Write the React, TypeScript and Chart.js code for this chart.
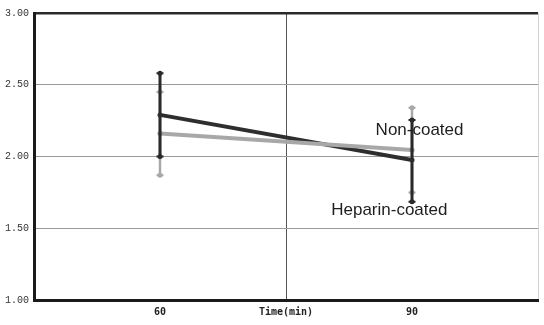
import React, { useEffect, useRef } from "react";
import { Chart, registerables } from "chart.js";

Chart.register(...registerables);

const times = [60, 90];
const heparinMean = [2.29, 1.975];
const heparinHigh = [2.58, 2.255];
const heparinLow = [2.0, 1.685];
const nonCoatedMean = [2.16, 2.045];
const nonCoatedHigh = [2.45, 2.34];
const nonCoatedLow = [1.87, 1.75];
const yTicks = [1.0, 1.5, 2.0, 2.5, 3.0];
const xTickLabels: Record<number, string> = { 60: "60", 75: "Time(min)", 90: "90" };
const seriesLabels = [
  { text: "Non-coated", x: 90.9, y: 2.18 },
  { text: "Heparin-coated", x: 87.3, y: 1.625 },
];

const errorBars = [
  { low: nonCoatedLow, high: nonCoatedHigh, color: "#a8a8a8", width: 2.5 },
  { low: heparinLow, high: heparinHigh, color: "#2a2a2a", width: 3 },
];

const errorBarPlugin = {
  id: "errorBars",
  afterDatasetsDraw(chart: any) {
    const { ctx, scales } = chart;
    const xs = scales.x;
    const ys = scales.y;
    ctx.save();
    errorBars.forEach((eb) => {
      times.forEach((t, i) => {
        const px = xs.getPixelForValue(t);
        const yl = ys.getPixelForValue(eb.low[i]);
        const yh = ys.getPixelForValue(eb.high[i]);
        ctx.strokeStyle = eb.color;
        ctx.lineWidth = eb.width;
        ctx.beginPath();
        ctx.moveTo(px, yl);
        ctx.lineTo(px, yh);
        ctx.stroke();
        ctx.lineWidth = 2;
        ctx.beginPath();
        ctx.moveTo(px - 3.5, yl);
        ctx.lineTo(px + 3.5, yl);
        ctx.moveTo(px - 3.5, yh);
        ctx.lineTo(px + 3.5, yh);
        ctx.stroke();
        ctx.fillStyle = eb.color;
        [yl, yh].forEach((yy) => {
          ctx.beginPath();
          ctx.arc(px, yy, 2.5, 0, Math.PI * 2);
          ctx.fill();
        });
      });
    });
    ctx.fillStyle = "#1e1e1e";
    ctx.font = "17px 'Liberation Sans', Arial, sans-serif";
    ctx.textAlign = "center";
    ctx.textBaseline = "middle";
    seriesLabels.forEach((l) => {
      ctx.fillText(l.text, xs.getPixelForValue(l.x), ys.getPixelForValue(l.y));
    });
    ctx.restore();
  },
};

export default function App() {
  const ref = useRef<HTMLCanvasElement | null>(null);
  useEffect(() => {
    if (!ref.current) return;
    const chart = new Chart(ref.current, {
      type: "scatter",
      data: {
        datasets: [
          {
            label: "Non-coated",
            data: times.map((t, i) => ({ x: t, y: nonCoatedMean[i] })),
            showLine: true,
            borderColor: "#a8a8a8",
            borderWidth: 4,
            pointRadius: 2.5,
            pointBackgroundColor: "#8a8a8a",
            pointBorderWidth: 0,
          },
          {
            label: "Heparin-coated",
            data: times.map((t, i) => ({ x: t, y: heparinMean[i] })),
            showLine: true,
            borderColor: "#2e2e2e",
            borderWidth: 4,
            pointRadius: 2.5,
            pointBackgroundColor: "#1e1e1e",
            pointBorderWidth: 0,
          },
        ],
      },
      options: {
        responsive: false,
        animation: false,
        layout: { padding: { left: 0, right: 2, top: 13, bottom: 0 } },
        plugins: { legend: { display: false }, tooltip: { enabled: false } },
        scales: {
          x: {
            type: "linear",
            min: 45,
            max: 105,
            afterBuildTicks: (s: any) => {
              s.ticks = [45, 60, 75, 90, 105].map((v) => ({ value: v }));
            },
            afterFit: (s: any) => {
              s.height = 25;
            },
            ticks: {
              autoSkip: false,
              maxRotation: 0,
              padding: 6,
              color: "#222",
              font: { family: "'DejaVu Sans Mono', monospace", size: 10, weight: "bold" },
              callback: (v: any) => xTickLabels[v as number] ?? "",
            },
            grid: {
              drawTicks: false,
              color: (c: any) =>
                c.tick && c.tick.value === 75 ? "#555" : c.tick && c.tick.value === 105 ? "#d4d4d4" : "rgba(0,0,0,0)",
              lineWidth: 1,
            },
            border: { display: true, color: "#1a1a1a", width: 3 },
          },
          y: {
            type: "linear",
            min: 1,
            max: 3,
            afterBuildTicks: (s: any) => {
              s.ticks = yTicks.map((v) => ({ value: v }));
            },
            afterFit: (s: any) => {
              s.width = 34;
            },
            ticks: {
              padding: 5,
              color: "#333",
              font: { family: "'Liberation Mono', monospace", size: 10 },
              callback: (v: any) => Number(v).toFixed(2),
            },
            grid: {
              drawTicks: false,
              color: (c: any) =>
                c.tick && c.tick.value === 3 ? "#2a2a2a" : c.tick && c.tick.value === 1 ? "rgba(0,0,0,0)" : "#9a9a9a",
              lineWidth: (c: any) => (c.tick && c.tick.value === 3 ? 2.5 : 1),
            },
            border: { display: true, color: "#1a1a1a", width: 3 },
          },
        },
      },
      plugins: [errorBarPlugin],
    });
    return () => chart.destroy();
  }, []);
  return (
    <div style={{ position: "fixed", left: 0, top: 0, width: 544, height: 325, background: "#fff" }}>
      <canvas ref={ref} width={544} height={325} />
    </div>
  );
}
